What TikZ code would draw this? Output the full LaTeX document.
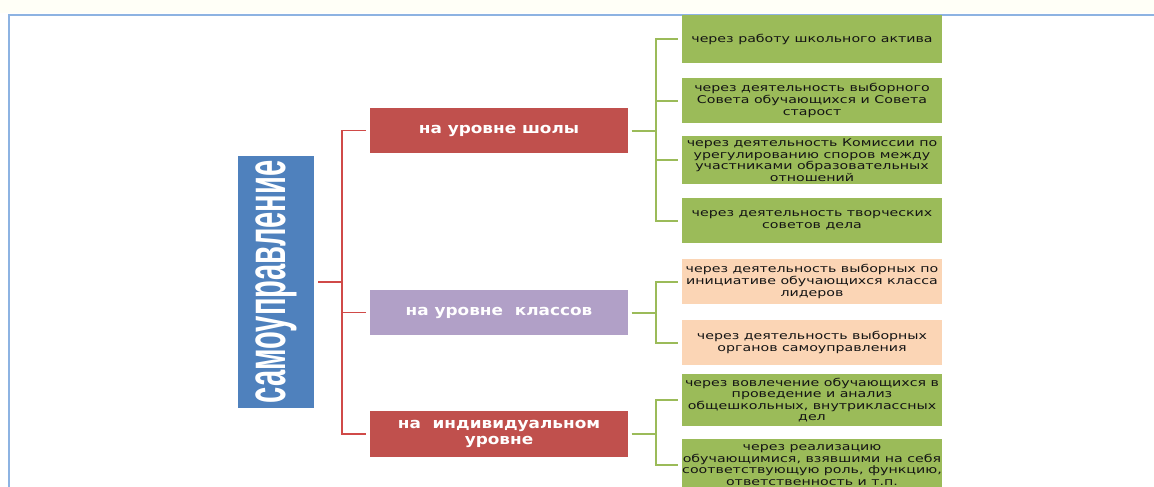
\documentclass[tikz,border=0pt]{standalone}
\usepackage{fontspec}
\setmainfont{DejaVu Sans}
\newfontfamily\levelfont[FakeStretch=1.15]{DejaVu Sans}
\newfontfamily\leaffont[FakeStretch=1.33]{DejaVu Sans}
\newfontfamily\bigfont{Liberation Sans}
\usepackage{graphicx}
\definecolor{frameblue}{HTML}{8DB3E2}
\definecolor{boxblue}{HTML}{4F81BD}
\definecolor{boxred}{HTML}{C0504D}
\definecolor{boxpurple}{HTML}{B1A0C7}
\definecolor{boxgreen}{HTML}{9BBB59}
\definecolor{boxpeach}{HTML}{FBD5B5}
\definecolor{linered}{HTML}{D04A48}
\definecolor{linegreen}{HTML}{9BBB59}
\definecolor{leaftext}{HTML}{141414}
\begin{document}
\begin{tikzpicture}[x=0.75pt,y=-0.75pt,
  levelbox/.style={rectangle, minimum width=193.5pt, minimum height=33.75pt, inner sep=0pt,
    text=white, align=center, font=\levelfont\bfseries\fontsize{11}{11.8}\selectfont},
  leafbox/.style={rectangle, minimum width=195pt, minimum height=33.75pt, inner sep=0pt,
    text=leaftext, align=center, font=\leaffont\fontsize{8}{8.7}\selectfont},
  redline/.style={draw=linered, line width=1.1pt},
  greenline/.style={draw=linegreen, line width=1.5pt}]
\useasboundingbox (0,0) rectangle (1154,486);
\clip (0,0) rectangle (1154,486);
\fill[white] (0,0) rectangle (1154,486);
\fill[yellow!3] (0,0) rectangle (1154,13);
\draw[frameblue, line width=1.5pt] (8.5,500) -- (8.5,14.5) -- (1160,14.5);

% root
\node[rectangle, fill=boxblue, minimum width=57pt, minimum height=189pt, inner sep=0pt, text=white]
  (sam) at (276,282) {\rotatebox{90}{\resizebox*{182pt}{31pt}{\bigfont\bfseries самоуправление}}};

% level boxes
\node[levelbox, fill=boxred] (L1) at (499,130.5) {на уровне шолы};
\node[levelbox, fill=boxpurple] (L2) at (499,312.5) {на уровне\ \ классов};
\node[levelbox, fill=boxred, minimum height=34.5pt] (L3) at (499,434) {на\ \ индивидуальном\\уровне};

% leaves
\node[leafbox, fill=boxgreen, minimum height=36pt] (G1) at (812,39) {через работу школьного актива};
\node[leafbox, fill=boxgreen] (G2) at (812,100.5) {через деятельность выборного\\Совета обучающихся и Совета\\старост};
\node[leafbox, fill=boxgreen, minimum height=36pt] (G3) at (812,160) {через деятельность Комиссии по\\урегулированию споров между\\участниками образовательных\\отношений};
\node[leafbox, fill=boxgreen] (G4) at (812,220.5) {через деятельность творческих\\советов дела};
\node[leafbox, fill=boxpeach] (P1) at (812,281.5) {через деятельность выборных по\\инициативе обучающихся класса\\лидеров};
\node[leafbox, fill=boxpeach] (P2) at (812,342.5) {через деятельность выборных\\органов самоуправления};
\node[leafbox, fill=boxgreen, minimum height=39pt] (B1) at (812,400) {через вовлечение обучающихся в\\проведение и анализ\\общешкольных, внутриклассных\\дел};
\node[leafbox, fill=boxgreen, minimum height=39pt] (B2) at (812,465) {через реализацию\\обучающимися, взявшими на себя\\соответствующую роль, функцию,\\ответственность и т.п.};

% red connectors
\coordinate (rv) at (342,282);
\draw[redline, shorten <=3pt] (sam.east) -- (rv);
\draw[redline, shorten >=3pt] (rv) |- (L1.west);
\draw[redline, shorten >=3pt] (rv) |- (L2.west);
\draw[redline, shorten >=3pt] (rv) |- (L3.west);

% green connectors
\coordinate (g1) at (656,130.5);
\coordinate (g2) at (656,312.5);
\coordinate (g3) at (656,434);
\draw[greenline, shorten <=2.5pt] (L1.east) -- (g1);
\draw[greenline, shorten <=2.5pt] (L2.east) -- (g2);
\draw[greenline, shorten <=2.5pt] (L3.east) -- (g3);
\foreach \t in {G1,G2,G3,G4} \draw[greenline, shorten >=2.5pt] (g1) |- (\t.west);
\foreach \t in {P1,P2} \draw[greenline, shorten >=2.5pt] (g2) |- (\t.west);
\foreach \t in {B1,B2} \draw[greenline, shorten >=2.5pt] (g3) |- (\t.west);
\end{tikzpicture}
\end{document}
